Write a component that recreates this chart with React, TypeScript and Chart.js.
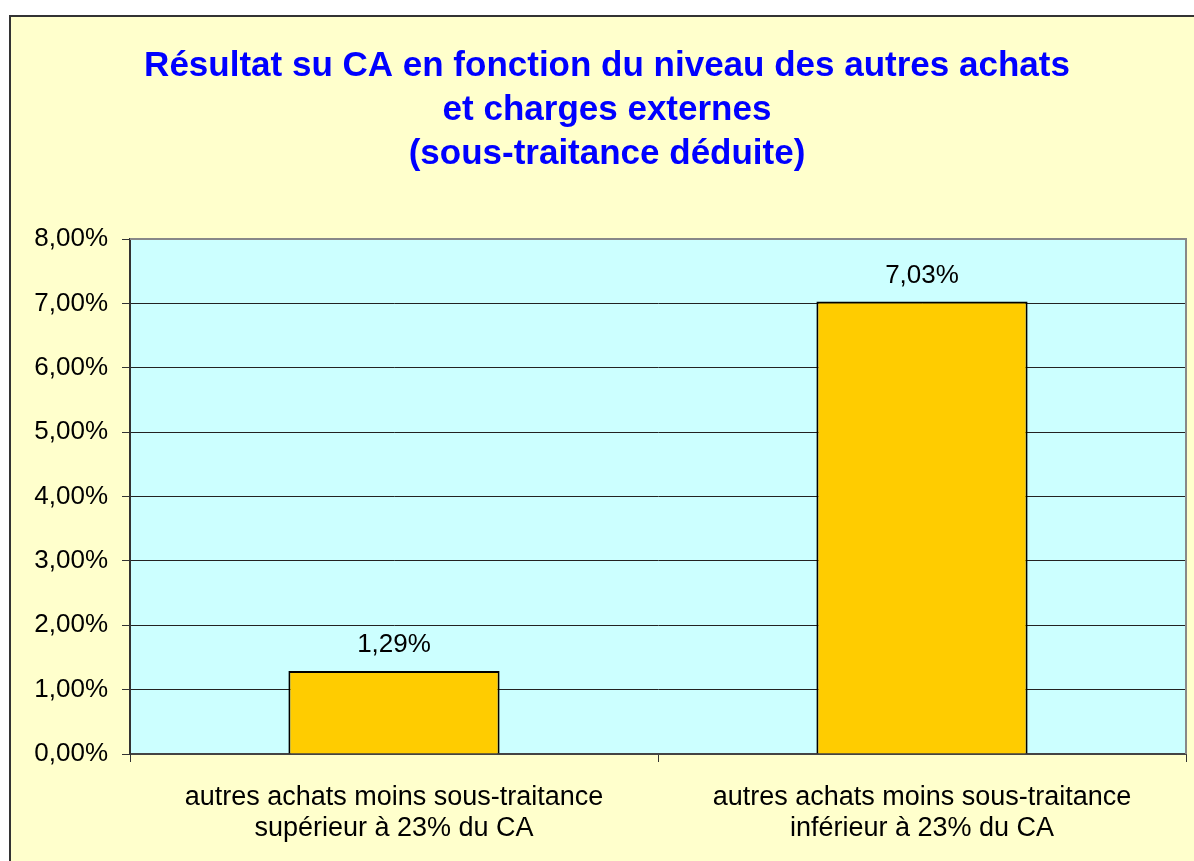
import React, { useEffect, useRef } from "react";
import { Chart, registerables } from "chart.js";

Chart.register(...registerables);

const titleLines = [
  "Résultat su CA en fonction du niveau des autres achats",
  "et charges externes",
  "(sous-traitance déduite)",
];
const categories = [
  ["autres achats moins sous-traitance", "supérieur à 23% du CA"],
  ["autres achats moins sous-traitance", "inférieur à 23% du CA"],
];
const values = [1.29, 7.03];
const yMin = 0;
const yMax = 8;
const yStep = 1;

const W = 1194;
const H = 861;
const FONT = "'Liberation Sans', Arial, sans-serif";

const fmt = (v: number) => v.toFixed(2).replace(".", ",") + "%";

const framePlugin = {
  id: "frame",
  beforeDraw(chart: any) {
    const { ctx, chartArea } = chart;
    ctx.save();
    ctx.fillStyle = "#FFFFFF";
    ctx.fillRect(0, 0, W, H);
    ctx.fillStyle = "#FFFFCC";
    ctx.fillRect(10, 16, W + 20, H + 20);
    ctx.strokeStyle = "#333333";
    ctx.lineWidth = 2;
    ctx.strokeRect(10, 16, W + 20, H + 20);
    ctx.fillStyle = "#CCFFFF";
    ctx.fillRect(
      chartArea.left,
      chartArea.top,
      chartArea.right - chartArea.left,
      chartArea.bottom - chartArea.top
    );
    // title
    ctx.fillStyle = "#0000FF";
    ctx.font = `bold 35px ${FONT}`;
    ctx.textAlign = "center";
    ctx.textBaseline = "alphabetic";
    const baselines = [76, 120, 164];
    titleLines.forEach((t, i) => ctx.fillText(t, 607, baselines[i]));
    ctx.restore();
  },
  beforeDatasetsDraw(chart: any) {
    const { ctx, chartArea } = chart;
    ctx.save();
    ctx.strokeStyle = "#888888";
    ctx.lineWidth = 2;
    ctx.beginPath();
    ctx.moveTo(chartArea.left, chartArea.top);
    ctx.lineTo(chartArea.right, chartArea.top);
    ctx.lineTo(chartArea.right, chartArea.bottom);
    ctx.stroke();
    ctx.restore();
  },
  afterDatasetsDraw(chart: any) {
    const { ctx } = chart;
    const meta = chart.getDatasetMeta(0);
    ctx.save();
    ctx.fillStyle = "#000000";
    ctx.font = `26px ${FONT}`;
    ctx.textAlign = "center";
    ctx.textBaseline = "middle";
    meta.data.forEach((bar: any, i: number) => {
      ctx.fillText(fmt(values[i]), bar.x, bar.y - 26);
    });
    ctx.restore();
  },
};

export default function App() {
  const ref = useRef<HTMLCanvasElement | null>(null);

  useEffect(() => {
    if (!ref.current) return;
    const chart = new Chart(ref.current, {
      type: "bar",
      data: {
        labels: categories,
        datasets: [
          {
            data: values,
            backgroundColor: "#FFCC00",
            borderColor: "#000000",
            borderWidth: 2,
            categoryPercentage: 1,
            barPercentage: 0.4,
          },
        ],
      },
      options: {
        animation: false,
        responsive: false,
        devicePixelRatio: 1,
        layout: { padding: { left: 9, right: 8, top: 239, bottom: 0 } },
        plugins: {
          legend: { display: false },
          title: { display: false },
          tooltip: { enabled: false },
        },
        scales: {
          x: {
            afterFit(scale: any) {
              scale.height = 107;
            },
            grid: {
              display: true,
              drawOnChartArea: false,
              drawTicks: true,
              tickLength: 8,
              tickColor: "#333333",
              offset: true,
            },
            border: { display: true, color: "#444444", width: 2 },
            ticks: {
              color: "#000000",
              font: { family: FONT, size: 27, lineHeight: 1.15 },
              padding: 20,
              maxRotation: 0,
              autoSkip: false,
            },
          },
          y: {
            min: yMin,
            max: yMax,
            afterFit(scale: any) {
              scale.width = 121;
            },
            grid: {
              color: "#222222",
              lineWidth: 1,
              drawTicks: true,
              tickLength: 8,
              tickColor: "#333333",
            },
            border: { display: true, color: "#333333", width: 2 },
            ticks: {
              stepSize: yStep,
              color: "#000000",
              font: { family: FONT, size: 26 },
              padding: 14,
              callback: (v: any) => fmt(Number(v)),
            },
          },
        },
      },
      plugins: [framePlugin],
    });
    return () => chart.destroy();
  }, []);

  return (
    <canvas
      ref={ref}
      width={W}
      height={H}
      style={{ position: "absolute", left: 0, top: 0, display: "block", width: W, height: H }}
    />
  );
}
